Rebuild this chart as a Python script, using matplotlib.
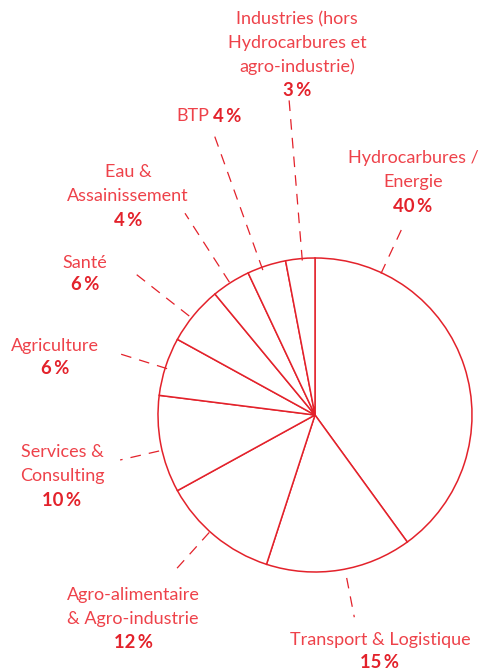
import numpy as np
import matplotlib
matplotlib.use("Agg")
import matplotlib.pyplot as plt

# ---- data ----
categories = ["Hydrocarbures /\nEnergie", "Transport & Logistique", "Agro-alimentaire\n& Agro-industrie",
              "Services &\nConsulting", "Agriculture", "Santé", "Eau &\nAssainissement", "BTP",
              "Industries (hors\nHydrocarbures et\nagro-industrie)"]
values = [40, 15, 12, 10, 6, 6, 4, 4, 3]

# ---- layout (image pixel coords) ----
W, H = 480, 670
cx, cy, R = 315, 415, 157
# label anchor (x of centre, y of first line), leader angle (deg, visual), leader r0, r1
label_pos = [(413, 158), (380, 640), (133, 595), (62, 452), (55, 346), (85, 263), (128, 172), (210, 116), (297, 19)]
leader = [(65, 156, 212), (-79, 166, 206), (-132, 158, 213), (-167, 160, 200), (162.6, 155, 205),
          (141.8, 160, 228), (122.8, 158, 240), (109.8, 154, 300), (94.7, 155, 316)]

RED = "#e3222b"
LIGHT = "#ee424a"
FAM = ["Lato", "DejaVu Sans"]
FS = 13
FSB = 13.3
LS = 24

fig = plt.figure(figsize=(W / 100, H / 100), dpi=100)
ax = fig.add_axes([0, 0, 1, 1])
ax.pie(values, center=(cx, cy), radius=R, startangle=-90, counterclock=True,
       colors=["white"] * len(values),
       wedgeprops=dict(edgecolor=RED, linewidth=1.1))
ax.set_xlim(0, W)
ax.set_ylim(H, 0)
ax.set_aspect("equal")
ax.axis("off")

for i, (cat, v) in enumerate(zip(categories, values)):
    ang, r0, r1 = leader[i]
    a = np.deg2rad(ang)
    ax.plot([cx + r0 * np.cos(a), cx + r1 * np.cos(a)], [cy - r0 * np.sin(a), cy - r1 * np.sin(a)],
            color=RED, lw=0.9, linestyle=(0, (8.5, 6.5)), solid_capstyle="butt", dash_capstyle="butt")
    x, y = label_pos[i]
    pct = f"{v}\u2009%"
    if cat == "BTP":
        ax.text(x - 1, y, cat, ha="right", va="center", color=LIGHT, fontsize=FS,
                family=FAM, weight="normal")
        ax.text(x + 3, y, pct, ha="left", va="center", color=RED, fontsize=FSB,
                family=FAM, weight="bold")
        continue
    lines = cat.split("\n")
    for j, ln in enumerate(lines):
        ax.text(x, y + j * LS, ln, ha="center", va="center", color=LIGHT, fontsize=FS,
                family=FAM, weight="normal")
    ax.text(x, y + len(lines) * LS - (2 if len(lines) == 1 else 0), pct, ha="center", va="center",
            color=RED, fontsize=FSB, family=FAM, weight="bold")

fig.savefig("out.png", dpi=100)
